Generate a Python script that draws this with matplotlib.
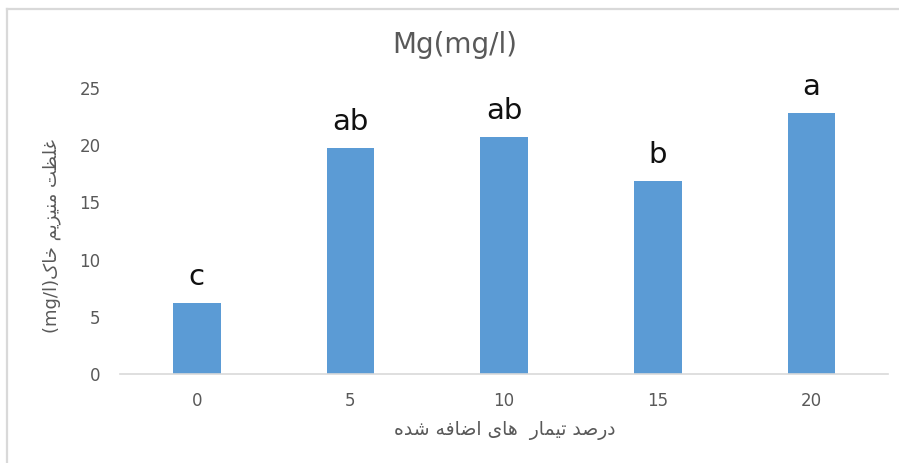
import matplotlib
matplotlib.use('Agg')
import matplotlib.pyplot as plt
from matplotlib.lines import Line2D

plt.rcParams['font.family'] = ['DejaVu Sans']

treatments = ['0', '5', '10', '15', '20']
mg_values = [6.2, 19.75, 20.7, 16.85, 22.8]
letters = ['c', 'ab', 'ab', 'b', 'a']

title = 'Mg(mg/l)'
xlabel_fa = 'درصد تیمار  های اضافه شده'
ylabel_fa = 'غلظت منیزیم خاک'
ylabel_unit = '(mg/l)'

# presentation forms: isolated, final, initial, medial
FORMS = {
    'ا': ('\uFE8D', '\uFE8E'),
    'ت': ('\uFE95', '\uFE96', '\uFE97', '\uFE98'),
    'خ': ('\uFEA5', '\uFEA6', '\uFEA7', '\uFEA8'),
    'د': ('\uFEA9', '\uFEAA'),
    'ر': ('\uFEAD', '\uFEAE'),
    'ز': ('\uFEAF', '\uFEB0'),
    'ش': ('\uFEB5', '\uFEB6', '\uFEB7', '\uFEB8'),
    'ص': ('\uFEB9', '\uFEBA', '\uFEBB', '\uFEBC'),
    'ض': ('\uFEBD', '\uFEBE', '\uFEBF', '\uFEC0'),
    'ظ': ('\uFEC5', '\uFEC6', '\uFEC7', '\uFEC8'),
    'غ': ('\uFECD', '\uFECE', '\uFECF', '\uFED0'),
    'ف': ('\uFED1', '\uFED2', '\uFED3', '\uFED4'),
    'ل': ('\uFEDD', '\uFEDE', '\uFEDF', '\uFEE0'),
    'م': ('\uFEE1', '\uFEE2', '\uFEE3', '\uFEE4'),
    'ن': ('\uFEE5', '\uFEE6', '\uFEE7', '\uFEE8'),
    'ه': ('\uFEE9', '\uFEEA', '\uFEEB', '\uFEEC'),
    'ی': ('\uFBFC', '\uFBFD', '\uFBFE', '\uFBFF'),
    'ک': ('\uFB8E', '\uFB8F', '\uFB90', '\uFB91'),
}


def rtl(text):
    # join letters and reverse for left-to-right drawing
    out = []
    for i, ch in enumerate(text):
        if ch not in FORMS:
            out.append(ch)
            continue
        prev = text[i - 1] if i > 0 else ''
        nxt = text[i + 1] if i + 1 < len(text) else ''
        f = FORMS[ch]
        jp = prev in FORMS and len(FORMS[prev]) == 4
        jn = len(f) == 4 and nxt in FORMS
        if jp and jn:
            out.append(f[3])
        elif jp:
            out.append(f[1])
        elif jn:
            out.append(f[2])
        else:
            out.append(f[0])
    return ''.join(out)[::-1]


grey = '#595959'
fig = plt.figure(figsize=(8.99, 4.63), dpi=100)
ax = fig.add_axes([0.1335, 0.1922, 0.8545, 0.6178])

x = range(len(treatments))
bars = ax.bar(x, mg_values, width=0.31, color='#5B9BD5', zorder=2)
for rect, lab in zip(bars, letters):
    ax.annotate(lab, (rect.get_x() + rect.get_width() / 2, rect.get_height()),
                xytext=(0, 13), textcoords='offset points', ha='center',
                va='baseline', fontsize=21, color='#111111')

ax.set_xlim(-0.5, len(treatments) - 0.5)
ax.set_ylim(0, 25)
ax.set_yticks([0, 5, 10, 15, 20, 25])
ax.set_xticks(list(x))
ax.set_xticklabels(treatments)
ax.tick_params(axis='both', length=0, labelsize=12, labelcolor=grey)
ax.tick_params(axis='y', pad=14)
ax.tick_params(axis='x', pad=13)
for s in ['top', 'right', 'left']:
    ax.spines[s].set_visible(False)
ax.spines['bottom'].set_color('#D9D9D9')
ax.spines['bottom'].set_linewidth(1.2)

fig.text(0.506, 0.903, title, ha='center', va='center', fontsize=20, color=grey)
fig.text(0.561, 0.071, rtl(xlabel_fa), ha='center', va='center', fontsize=13.5, color=grey)
fig.text(0.058, 0.49, ylabel_unit + rtl(ylabel_fa), ha='center', va='center',
         rotation=90, fontsize=13, color=grey)

fig.add_artist(Line2D([6.5 / 899, 1], [1 - 8.5 / 463, 1 - 8.5 / 463],
                      color='#D9D9D9', lw=1.6))
fig.add_artist(Line2D([6.5 / 899, 6.5 / 899], [0, 1 - 8.5 / 463],
                      color='#D9D9D9', lw=1.6))

fig.savefig('out.png', dpi=100)
